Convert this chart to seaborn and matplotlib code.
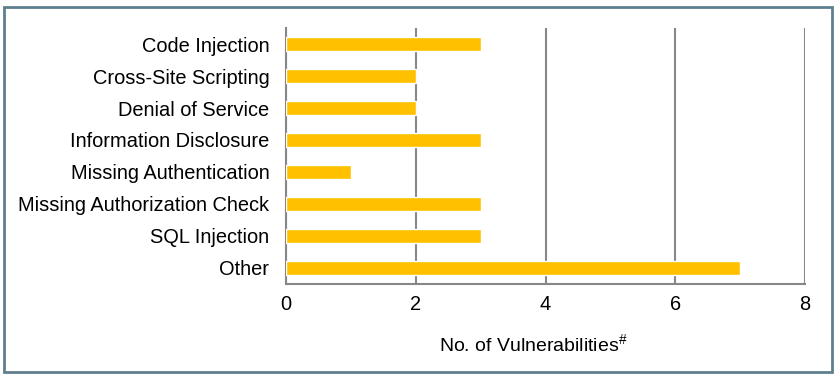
import matplotlib
matplotlib.use('Agg')
import matplotlib.pyplot as plt
import seaborn as sns
import pandas as pd
from matplotlib.patches import Rectangle

# --- DATA ---
categories = [
    "Code Injection",
    "Cross-Site Scripting",
    "Denial of Service",
    "Information Disclosure",
    "Missing Authentication",
    "Missing Authorization Check",
    "SQL Injection",
    "Other",
]
counts = [3, 2, 2, 3, 1, 3, 3, 7]
x_ticks = [0, 2, 4, 6, 8]

df = pd.DataFrame({"category": categories, "count": counts})

sns.set_style("white")
plt.rcParams['font.family'] = ['Liberation Sans', 'DejaVu Sans']
plt.rcParams['mathtext.fontset'] = 'custom'
plt.rcParams['mathtext.rm'] = 'Liberation Sans'

fig = plt.figure(figsize=(8.37, 3.79), dpi=100)
ax = fig.add_axes([0.3417, 0.2507, 0.6201, 0.6754])

sns.barplot(data=df, y="category", x="count", color="#FFC000", saturation=1,
            width=0.42, orient="h", ax=ax, zorder=3)

ax.set_xlim(0, 8)
ax.set_xticks(x_ticks)
ax.set_ylim(len(categories) - 0.5, -0.5)
ax.grid(axis="x", color="#878787", linewidth=1.5, zorder=0)
ax.set_axisbelow(True)

for side in ["top", "right"]:
    ax.spines[side].set_visible(False)
for side in ["left", "bottom"]:
    ax.spines[side].set_color("#878787")
    ax.spines[side].set_linewidth(1.5)

ax.tick_params(axis="both", length=0, labelsize=14.4, colors="#000000")
ax.tick_params(axis="x", pad=8)
ax.tick_params(axis="y", pad=12)
ax.set_ylabel("")
ax.set_xlabel(r"No. of Vulnerabilities$^{\#}$", fontsize=14, color="#000000")
ax.xaxis.set_label_coords(0.476, -0.195)

# outer frame
fig.patches.append(Rectangle((4 / 837, 1 - 372 / 379), 828 / 837, 365 / 379,
                             transform=fig.transFigure, fill=False,
                             edgecolor="#5F7F8F", linewidth=2))

fig.savefig("out.png", dpi=100)
